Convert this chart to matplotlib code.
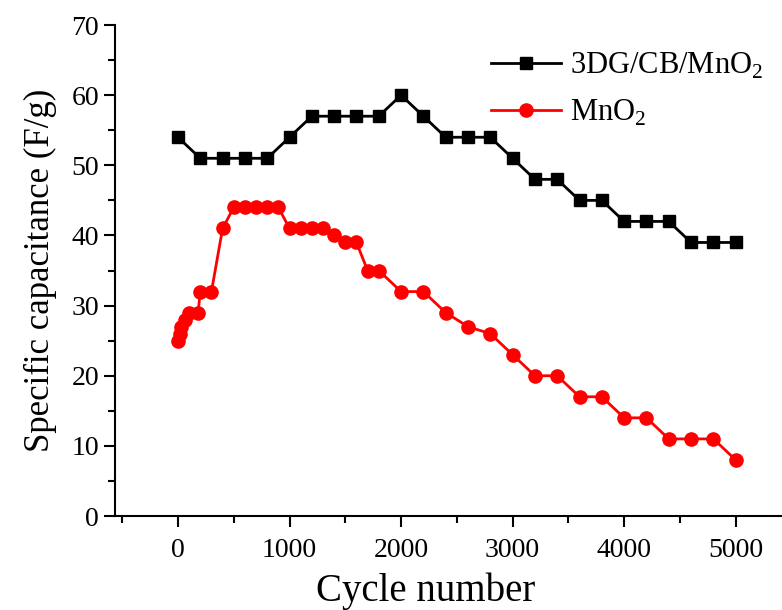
import numpy as np
import matplotlib
matplotlib.use("Agg")
import matplotlib.pyplot as plt
from matplotlib.ticker import MultipleLocator

plt.rcParams['font.family'] = 'Liberation Serif'
plt.rcParams['mathtext.fontset'] = 'custom'
plt.rcParams['mathtext.rm'] = 'Liberation Serif'

# 3DG/CB/MnO2
cyc_g = [0, 200, 400, 600, 800, 1000, 1200, 1400, 1600, 1800, 2000, 2200, 2400,
         2600, 2800, 3000, 3200, 3400, 3600, 3800, 4000, 4200, 4400, 4600, 4800, 5000]
cap_g = [54, 51, 51, 51, 51, 54, 57, 57, 57, 57, 60, 57, 54,
         54, 54, 51, 48, 48, 45, 45, 42, 42, 42, 39, 39, 39]

# MnO2
cyc_m = [0, 15, 30, 60, 100, 180, 200, 300, 400, 500, 600, 700, 800, 900, 1000,
         1100, 1200, 1300, 1400, 1500, 1600, 1700, 1800, 2000, 2200, 2400, 2600,
         2800, 3000, 3200, 3400, 3600, 3800, 4000, 4200, 4400, 4600, 4800, 5000]
cap_m = [25, 26, 27, 28, 29, 29, 32, 32, 41, 44, 44, 44, 44, 44, 41,
         41, 41, 41, 40, 39, 39, 35, 35, 32, 32, 29, 27,
         26, 23, 20, 20, 17, 17, 14, 14, 11, 11, 11, 8]

fig = plt.figure(figsize=(7.82, 6.10), dpi=100)
ax = fig.add_axes([0.147, 0.154, 0.853, 0.805])

ax.plot(cyc_g, cap_g, '-s', color='black', lw=2, ms=8.5, label='3DG/CB/MnO$_2$')
ax.plot(cyc_m, cap_m, '-o', color='red', lw=2, ms=9.5, label='MnO$_2$')

ax.set_xlim(-565, 5415)
ax.set_ylim(0, 70)
ax.xaxis.set_major_locator(MultipleLocator(1000))
ax.xaxis.set_minor_locator(MultipleLocator(500))
ax.yaxis.set_major_locator(MultipleLocator(10))
ax.yaxis.set_minor_locator(MultipleLocator(5))
ax.spines['top'].set_visible(False)
ax.spines['right'].set_visible(False)
for s in ['left', 'bottom']:
    ax.spines[s].set_linewidth(1.5)
ax.tick_params(which='major', direction='out', length=8, width=1.5, labelsize=20)
ax.tick_params(axis='x', which='major', pad=8)
ax.tick_params(which='minor', direction='out', length=5, width=1.5)

ax.set_xlabel('Cycle number', fontsize=28)
ax.xaxis.set_label_coords(0.465, -0.115)
ax.set_ylabel('Specific capacitance (F/g)', fontsize=25, labelpad=10)

ax.legend(loc='upper right', bbox_to_anchor=(1.0, 0.985), frameon=False, fontsize=22,
          handlelength=2.3, handletextpad=0.3, labelspacing=0.55, borderaxespad=0.2)

fig.savefig('out.png', dpi=100)
